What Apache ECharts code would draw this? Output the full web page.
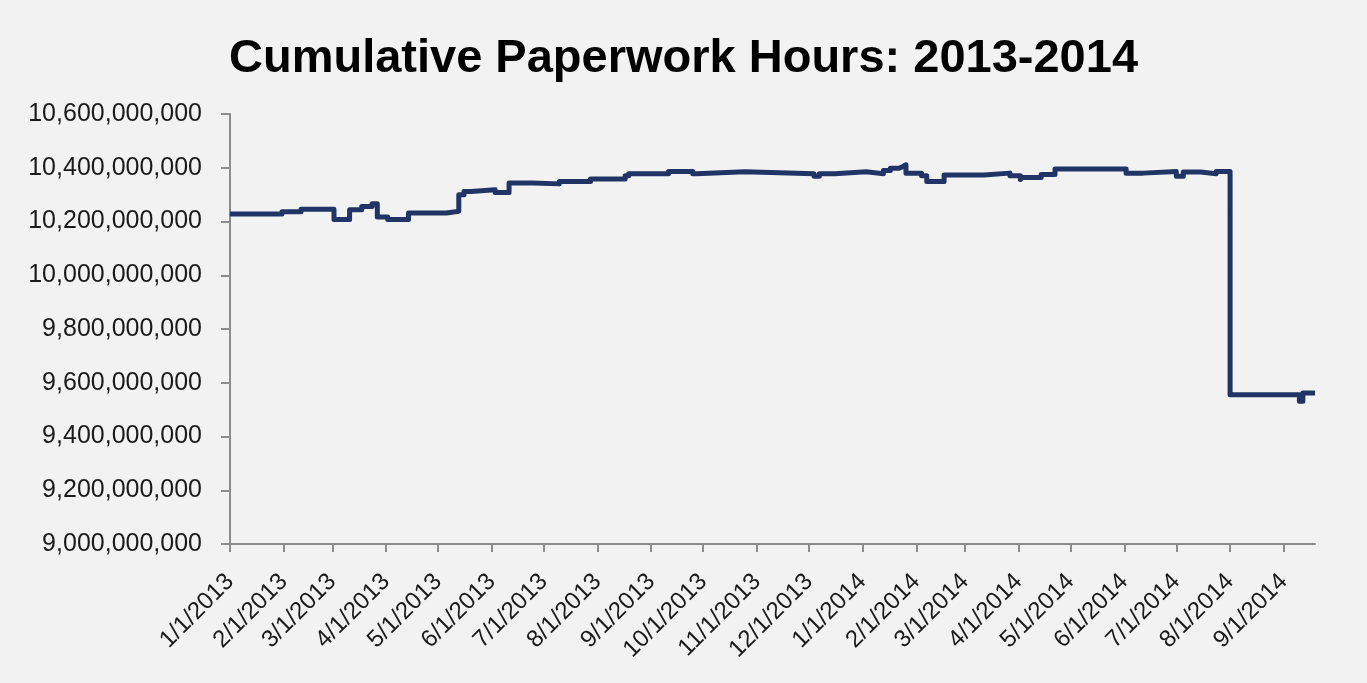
<!DOCTYPE html>
<html>
<head>
<meta charset="utf-8">
<script src="https://cdn.jsdelivr.net/npm/echarts@6/dist/echarts.min.js"></script>
<style>
html,body{margin:0;padding:0;background:#f2f2f2;}
#main{width:1367px;height:683px;}
</style>
</head>
<body>
<div id="main"></div>
<script>
const titleText = 'Cumulative Paperwork Hours: 2013-2014';
const dates = ['2013-01-01','2013-01-31','2013-02-11','2013-03-02','2013-03-11','2013-03-18','2013-03-24','2013-03-27','2013-04-02','2013-04-14','2013-05-06','2013-05-13','2013-05-16','2013-05-20','2013-06-03','2013-06-11','2013-06-25','2013-07-10','2013-07-28','2013-08-17','2013-08-19','2013-09-11','2013-09-25','2013-09-27','2013-10-25','2013-12-04','2013-12-07','2013-12-16','2014-01-03','2014-01-13','2014-01-17','2014-01-22','2014-01-24','2014-01-26','2014-02-04','2014-02-07','2014-02-17','2014-03-12','2014-03-27','2014-04-02','2014-04-03','2014-04-14','2014-04-22','2014-06-02','2014-06-12','2014-07-01','2014-07-05','2014-07-15','2014-07-24','2014-08-01','2014-09-10','2014-09-12','2014-09-19'];
const hours = [10228000000,10236000000,10246000000,10207000000,10244000000,10256000000,10266000000,10217000000,10207000000,10232000000,10238000000,10300000000,10312000000,10318000000,10308000000,10343000000,10340000000,10349000000,10358000000,10370000000,10378000000,10386000000,10378000000,10385000000,10378000000,10368000000,10378000000,10385000000,10378000000,10390000000,10398000000,10404000000,10411000000,10380000000,10370000000,10349000000,10373000000,10380000000,10370000000,10356000000,10364000000,10375000000,10395000000,10380000000,10386000000,10368000000,10384000000,10378000000,10386000000,9555000000,9531000000,9562000000,9562000000];
const xMin = '2013-01-01';
const xMax = '2014-09-19';
const yMin = 9000000000, yMax = 10600000000, yStep = 200000000;

const DAY = 86400000;
const chart = echarts.init(document.getElementById('main'), null, {renderer: 'canvas'});
chart.setOption({
  backgroundColor: '#f2f2f2',
  animation: false,
  title: {
    text: titleText,
    left: 'center',
    top: 31,
    textStyle: {fontFamily: 'Liberation Sans', fontWeight: 'bold', fontSize: 47, color: '#000'}
  },
  grid: {left: 230, right: 52, top: 114, bottom: 139, containLabel: false},
  xAxis: {
    type: 'time',
    min: xMin,
    max: xMax,
    splitNumber: 20,
    minInterval: 28 * DAY,
    maxInterval: 31 * DAY,
    axisLine: {lineStyle: {color: '#8c8c8c', width: 2}},
    axisTick: {show: true, length: 8, lineStyle: {color: '#8c8c8c', width: 2}},
    splitLine: {show: false},
    axisLabel: {
      rotate: 45,
      margin: 34,
      showMaxLabel: false,
      fontFamily: 'Liberation Sans',
      fontSize: 24,
      color: '#1a1a1a',
      formatter: function (v) {
        const d = new Date(v);
        return (d.getMonth() + 1) + '/' + d.getDate() + '/' + d.getFullYear();
      }
    }
  },
  yAxis: {
    type: 'value',
    min: yMin,
    max: yMax,
    interval: yStep,
    axisLine: {show: true, lineStyle: {color: '#8c8c8c', width: 2}},
    axisTick: {show: true, length: 9, lineStyle: {color: '#8c8c8c', width: 2}},
    splitLine: {show: false},
    axisLabel: {
      margin: 28,
      fontFamily: 'Liberation Sans',
      fontSize: 25,
      color: '#1a1a1a',
      formatter: function (v) { return v.toLocaleString('en-US'); }
    }
  },
  series: [{
    type: 'line',
    step: 'end',
    showSymbol: false,
    data: dates.map((d, i) => [d, hours[i]]),
    lineStyle: {color: '#213466', width: 5, join: 'round'},
    itemStyle: {color: '#213466'}
  }]
});
</script>
</body>
</html>
